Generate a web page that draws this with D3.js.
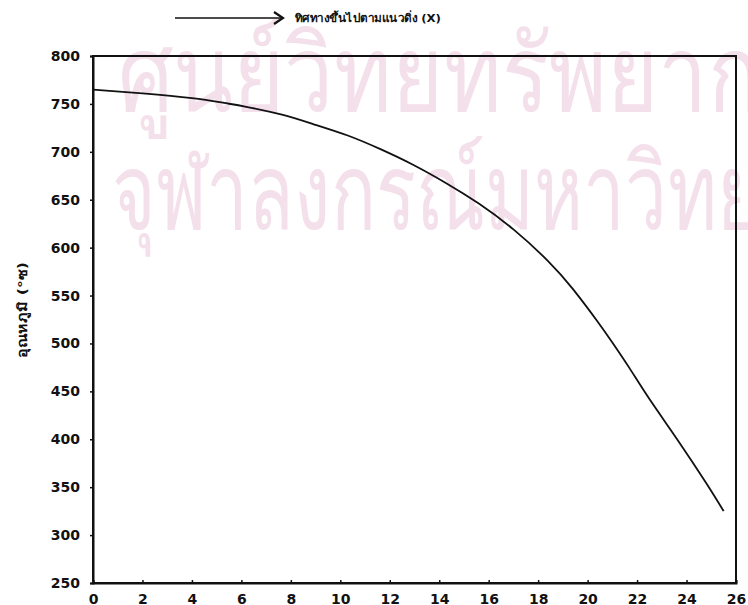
<!DOCTYPE html>
<html>
<head>
<meta charset="utf-8">
<script src="https://cdn.jsdelivr.net/npm/d3@7"></script>
<style>
  html, body { margin: 0; padding: 0; background: #fff; }
  svg { display: block; }
</style>
</head>
<body>
<svg id="chart" width="748" height="605"></svg>
<script>
// ---- data ----
const distance = [0, 2, 4, 5.3, 6.2, 7.6, 8.9, 10.3, 11.6, 12.9, 14.3, 15.6, 17, 18.4, 19.4, 20.4, 21, 21.7, 22.5, 23.7, 24.8, 25.5];
const temperature = [765, 761, 756, 751, 747, 739, 729, 717, 703, 687, 667, 646, 619, 586, 557, 523, 501, 474, 442, 397, 354, 325];
const xTicks = [0, 2, 4, 6, 8, 10, 12, 14, 16, 18, 20, 22, 24, 26];
const yTicks = [250, 300, 350, 400, 450, 500, 550, 600, 650, 700, 750, 800];
const titleText = "ทิศทางขึ้นไปตามแนวดิ่ง (X)";
const yLabelText = "อุณหภูมิ (°ซ)";
const watermarkLines = ["ศูนย์วิทยทรัพยากร", "จุฬาลงกรณ์มหาวิทยาลัย"];

const W = 748, H = 605;
const margin = { left: 93, right: 12, top: 56, bottom: 22 };
const svg = d3.select("#chart");

// watermark
const wm = svg.append("g").attr("fill", "#f4e0ea").attr("font-family", "'Noto Sans', 'DejaVu Sans', sans-serif");
wm.append("text").attr("x", 118).attr("y", 111).attr("font-size", 106)
  .attr("textLength", 690).attr("lengthAdjust", "spacingAndGlyphs").text(watermarkLines[0]);
wm.append("text").attr("x", 112).attr("y", 229).attr("font-size", 106)
  .attr("textLength", 780).attr("lengthAdjust", "spacingAndGlyphs").text(watermarkLines[1]);

const x = d3.scaleLinear().domain([0, 26]).range([margin.left, W - margin.right]);
const y = d3.scaleLinear().domain([250, 800]).range([H - margin.bottom, margin.top]);

const font = "'DejaVu Sans', sans-serif";

// frame
svg.append("rect")
  .attr("x", x(0)).attr("y", y(800))
  .attr("width", x(26) - x(0)).attr("height", y(250) - y(800))
  .attr("fill", "none").attr("stroke", "#111").attr("stroke-width", 2);

// axes
const xAxis = svg.append("g").attr("transform", `translate(0,${y(250)})`)
  .call(d3.axisBottom(x).tickValues(xTicks).tickSize(-3).tickPadding(8).tickFormat(d3.format("d")));
const yAxis = svg.append("g").attr("transform", `translate(${x(0)},0)`)
  .call(d3.axisLeft(y).tickValues(yTicks).tickSize(3).tickPadding(10).tickFormat(d3.format("d")));
[xAxis, yAxis].forEach(g => {
  g.select(".domain").attr("stroke", "#111").attr("stroke-width", 2);
  g.selectAll(".tick line").attr("stroke", "#111").attr("stroke-width", 1.5);
  g.selectAll(".tick text").attr("fill", "#111").attr("font-family", font)
    .attr("font-size", 14).attr("font-weight", "bold");
});
xAxis.selectAll(".tick text").attr("dy", "0.95em");

// curve
const pts = distance.map((d, i) => [d, temperature[i]]);
svg.append("path")
  .datum(pts)
  .attr("fill", "none").attr("stroke", "#111").attr("stroke-width", 1.8)
  .attr("d", d3.line().x(d => x(d[0])).y(d => y(d[1])).curve(d3.curveNatural));

// title with arrow
const tg = svg.append("g").attr("stroke", "#111").attr("stroke-width", 1.6).attr("fill", "none");
tg.append("line").attr("x1", 175).attr("y1", 18).attr("x2", 282).attr("y2", 18);
tg.append("path").attr("d", "M274,12 L283,18 L274,24").attr("stroke-width", 2.2);
svg.append("text").attr("x", 295).attr("y", 22)
  .attr("font-family", font).attr("font-size", 11).attr("font-weight", "bold").attr("fill", "#111")
  .attr("textLength", 146).attr("lengthAdjust", "spacingAndGlyphs")
  .text(titleText);

// y label
svg.append("text")
  .attr("transform", "translate(27,310) rotate(-90)")
  .attr("text-anchor", "middle")
  .attr("font-family", font).attr("font-size", 13).attr("font-weight", "bold").attr("fill", "#111")
  .attr("textLength", 96).attr("lengthAdjust", "spacingAndGlyphs")
  .text(yLabelText);
</script>
</body>
</html>
